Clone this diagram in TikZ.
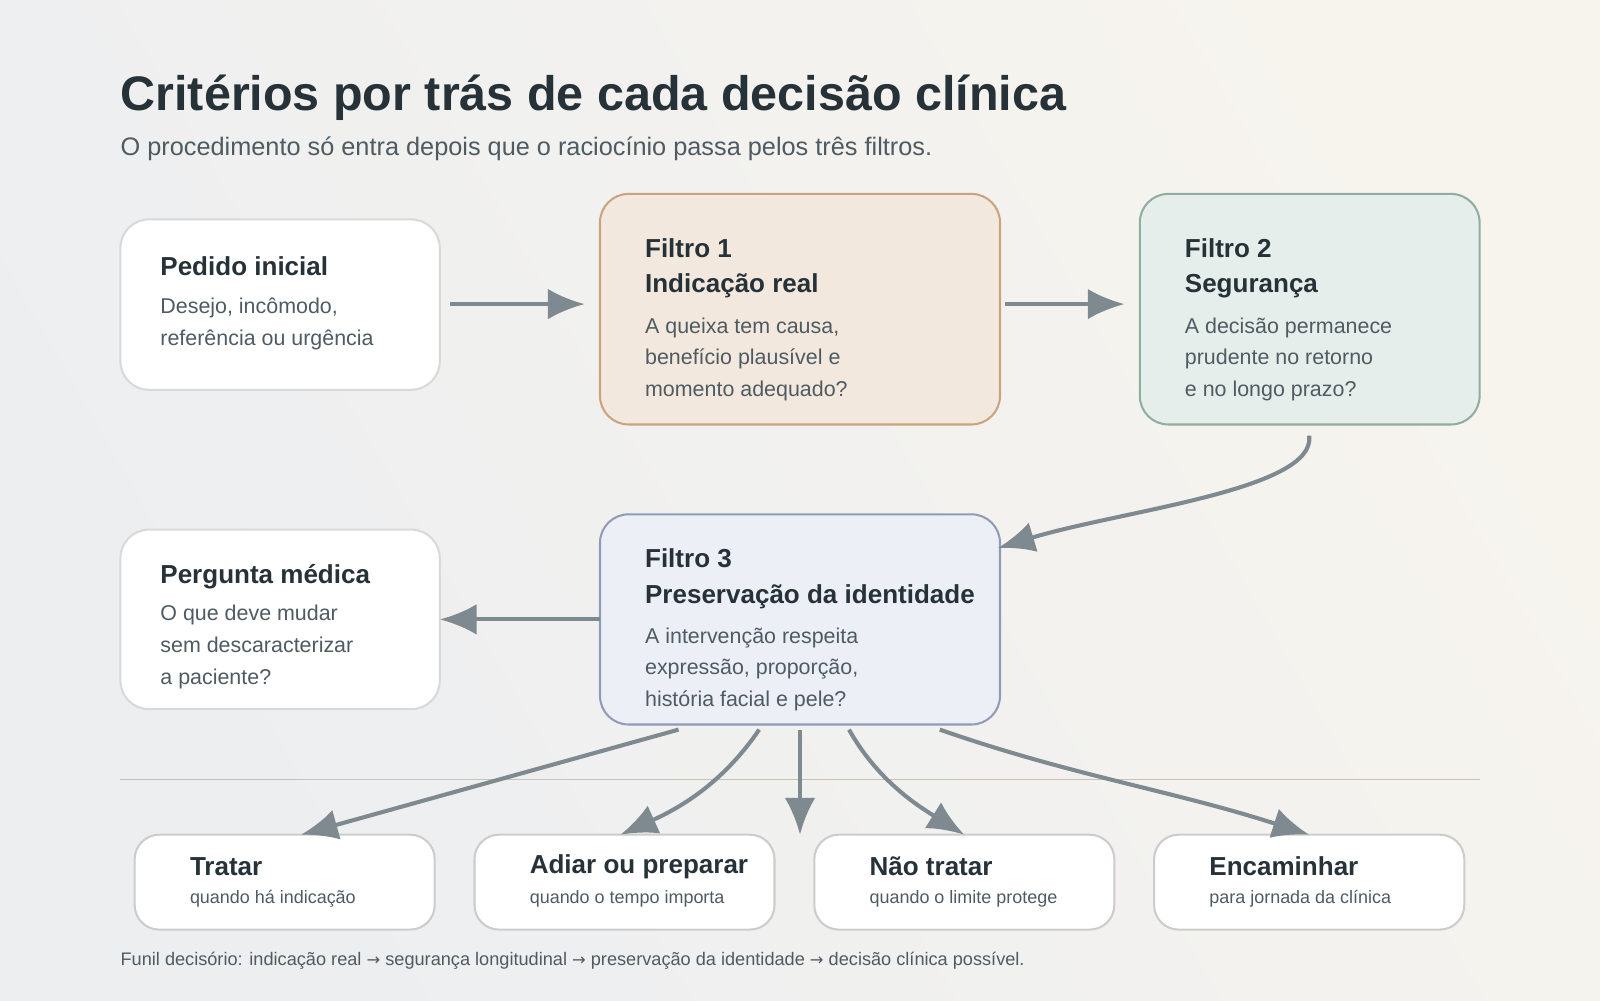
\documentclass[tikz,border=0pt]{standalone}
\usepackage{fontspec}
\setmainfont{Liberation Sans}
\newfontfamily\arrf{DejaVu Sans}
\usetikzlibrary{arrows.meta}
\definecolor{ink}{HTML}{263238}
\definecolor{sub}{HTML}{4F5B62}
\definecolor{arr}{HTML}{7F8A90}
\newcommand{\rarr}{{\arrf\fontsize{16}{20}\selectfont→}}
\begin{document}
\begin{tikzpicture}[x=1pt,y=-1pt, every node/.style={inner sep=0pt},
 box/.style={draw, line width=2pt, rounded corners=28pt},
 hd/.style={anchor=west, font=\fontsize{25.5}{35}\selectfont\bfseries, text=ink, align=left},
 bd/.style={anchor=north west, font=\fontsize{21}{31}\selectfont, text=sub, align=left},
 bhd/.style={anchor=west, font=\fontsize{25.5}{31}\selectfont\bfseries, text=ink},
 bsm/.style={anchor=west, font=\fontsize{17.6}{20}\selectfont, text=sub},
 ar/.style={draw=arr, line width=4pt, -{Latex[length=36pt,width=30pt]}}]
\useasboundingbox (0,0) rectangle (1568,980);
\shade[left color={rgb,255:red,247;green,244;blue,238}, right color={rgb,255:red,236;green,238;blue,240}, shading angle=-60] (0,0) rectangle (1568,980);
\node[anchor=base west, font=\fontsize{47.5}{50}\selectfont\bfseries, text=ink] (title) at (118,108) {Critérios por trás de cada decisão clínica};
\node[anchor=base west, font=\fontsize{24.8}{28}\selectfont, text=sub] (subt) at (118,152) {O procedimento só entra depois que o raciocínio passa pelos três filtros.};
\draw[box, draw=gray!30, fill=white] (118,215) rectangle (431,382);
\node[hd] (h1) at (157,261) {Pedido inicial};
\node[bd] (b1) at (157,292) {Desejo, incômodo,\\referência ou urgência};
\draw[box, draw={rgb,255:red,201;green,164;blue,126}, fill={rgb,255:red,243;green,232;blue,222}] (588,190) rectangle (980,416);
\node[hd] (h2) at (632,263) {Filtro 1\\Indicação real};
\node[bd] (b2) at (632,311) {A queixa tem causa,\\benefício plausível e\\momento adequado?};
\draw[box, draw={rgb,255:red,143;green,173;blue,160}, fill={rgb,255:red,230;green,238;blue,235}] (1117,190) rectangle (1450,416);
\node[hd] (h3) at (1161,263) {Filtro 2\\Segurança};
\node[bd] (b3) at (1161,311) {A decisão permanece\\prudente no retorno\\e no longo prazo?};
\draw[box, draw=gray!30, fill=white] (118,519) rectangle (431,695);
\node[hd] (h4) at (157,565) {Pergunta médica};
\node[bd] (b4) at (157,593) {O que deve mudar\\sem descaracterizar\\a paciente?};
\draw[box, draw={rgb,255:red,145;green,155;blue,181}, fill={rgb,255:red,236;green,239;blue,246}] (588,504) rectangle (980,710);
\node[hd] (h5) at (632,567) {Filtro 3\\Preservação da identidade};
\node[bd] (b5) at (632,615) {A intervenção respeita\\expressão, proporção,\\história facial e pele?};
\draw[line width=1.5pt, draw={rgb,255:red,200;green,194;blue,181}] (118,764) -- (1450,764);
\foreach \x/\w/\t/\s [count=\i] in {132/294/Tratar/quando há indicação, 465/294/Adiar ou preparar/quando o tempo importa, 798/294/Não tratar/quando o limite protege, 1131/304/Encaminhar/para jornada da clínica}{
 \draw[box, rounded corners=24pt, draw=gray!40, fill=white] (\x,818) rectangle ++(\w,93);
 \node[bhd] (o\i) at (\x+54,849) {\t};
 \node[bsm] (s\i) at (\x+54,881) {\s};
}
\node[anchor=base west, font=\fontsize{17.8}{20}\selectfont, text=sub] (foot) at (118,946) {Funil decisório: indicação real \rarr{} segurança longitudinal \rarr{} preservação da identidade \rarr{} decisão clínica possível.};
\coordinate (a1s) at (441,298); \coordinate (a1e) at (573,298);
\coordinate (a2s) at (985,298); \coordinate (a2e) at (1102,298);
\coordinate (a3s) at (1283,427); \coordinate (a3e) at (978,537);
\coordinate (a4s) at (588,607); \coordinate (a4e) at (431,607);
\coordinate (d1s) at (665,715); \coordinate (d1e) at (295,818);
\coordinate (d2s) at (744,715); \coordinate (d2e) at (608,818);
\coordinate (d3s) at (784,715); \coordinate (d3e) at (784,818);
\coordinate (d4s) at (832,715); \coordinate (d4e) at (945,818);
\coordinate (d5s) at (921,715); \coordinate (d5e) at (1283,818);
\draw[ar] (a1s) -- (a1e);
\draw[ar] (a2s) -- (a2e);
\draw[ar] (a3s) .. controls (1290,480) and (1100,500) .. (a3e);
\draw[ar] (a4s) -- (a4e);
\draw[ar] (d1s) -- (d1e);
\draw[ar] (d2s) .. controls (710,765) and (670,790) .. (d2e);
\draw[ar] (d3s) -- (d3e);
\draw[ar] (d4s) .. controls (860,765) and (900,790) .. (d4e);
\draw[ar] (d5s) .. controls (1050,760) and (1150,775) .. (d5e);
\end{tikzpicture}
\end{document}
